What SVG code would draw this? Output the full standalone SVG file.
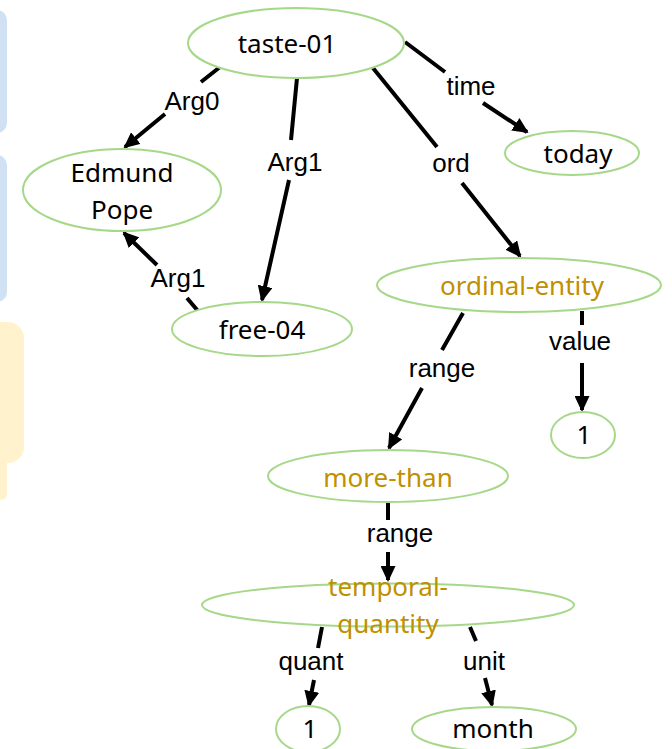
<svg xmlns="http://www.w3.org/2000/svg" width="672" height="749" viewBox="0 0 672 749">
  <style>
    .node ellipse { fill: #ffffff; stroke: #a6d889; stroke-width: 2; }
    .node text { font-family: "Noto Sans", "Open Sans", sans-serif; font-size: 26px; text-anchor: middle; fill: #000000; }
    .node text.concept { fill: #bf9000; }
    .edge { fill: none; stroke: #000000; stroke-width: 4; marker-end: url(#arrow); }
    .label { font-family: "Liberation Sans", Arial, sans-serif; font-size: 26px; text-anchor: middle; fill: #000000; }
    .side-blue { fill: #d0e1f4; }
    .side-yellow { fill: #fff2cc; }
  </style>
  <defs>
    <marker id="arrow" viewBox="0 0 16 15" refX="14" refY="7.5" markerWidth="16" markerHeight="15" markerUnits="userSpaceOnUse" orient="auto">
      <path d="M0,0 L16,7.5 L0,15 z" fill="#000000"/>
    </marker>
  </defs>

  <rect width="672" height="749" fill="#ffffff"/>

  <!-- side panels at the left edge -->
  <g id="side-panels">
    <rect class="side-blue" x="-20" y="10" width="27" height="123" rx="10"/>
    <rect class="side-blue" x="-20" y="155" width="27" height="147" rx="10"/>
    <rect class="side-yellow" x="-20" y="440" width="27" height="60" rx="6"/>
    <rect class="side-yellow" x="-20" y="322" width="44" height="141" rx="16"/>
  </g>

  <!-- connectors -->
  <g id="connectors">
    <path class="edge" d="M220,67 L201,82 M165,114 L125,147"/>
    <path class="edge" d="M297,78 L291,140 M289,180 L262,300"/>
    <path class="edge" d="M198,311 L187,298 M157,265 L124,233"/>
    <path class="edge" d="M405,42 L445,72 M483,103 L527,132"/>
    <path class="edge" d="M373,68 L437,147 M462,183 L520,256"/>
    <path class="edge" d="M463,313 L442,350 M422,388 L389,448"/>
    <path class="edge" d="M582,311 L582,325 M582,363 L582,410"/>
    <path class="edge" d="M388,502 L388,520 M388,552 L388,580"/>
    <path class="edge" d="M322,627 L318,648 M314,680 L309,705"/>
    <path class="edge" d="M470,627 L476,641 M485,678 L492,705"/>

    <text class="label" x="192" y="110">Arg0</text>
    <text class="label" x="295" y="171">Arg1</text>
    <text class="label" x="178" y="287">Arg1</text>
    <text class="label" x="471" y="95">time</text>
    <text class="label" x="451" y="172">ord</text>
    <text class="label" x="442" y="377">range</text>
    <text class="label" x="580" y="350">value</text>
    <text class="label" x="400" y="542">range</text>
    <text class="label" x="311" y="670">quant</text>
    <text class="label" x="484" y="670">unit</text>
  </g>

  <!-- nodes -->
  <g id="taste-01" class="node">
    <ellipse cx="296" cy="43" rx="108" ry="35"/>
    <text x="287" y="53">taste-01</text>
  </g>
  <g id="edmund-pope" class="node">
    <ellipse cx="122" cy="190" rx="99" ry="41"/>
    <text x="122" y="182">Edmund</text>
    <text x="122" y="219">Pope</text>
  </g>
  <g id="free-04" class="node">
    <ellipse cx="262" cy="329" rx="90" ry="27"/>
    <text x="262" y="339">free-04</text>
  </g>
  <g id="today" class="node">
    <ellipse cx="572" cy="153" rx="67" ry="22"/>
    <text x="578" y="163">today</text>
  </g>
  <g id="ordinal-entity" class="node">
    <ellipse cx="519" cy="285" rx="142" ry="27"/>
    <text class="concept" x="522" y="295">ordinal-entity</text>
  </g>
  <g id="value-1" class="node">
    <ellipse cx="583" cy="435" rx="32" ry="23"/>
    <text x="584" y="444">1</text>
  </g>
  <g id="more-than" class="node">
    <ellipse cx="388" cy="476" rx="120" ry="26"/>
    <text class="concept" x="388" y="487">more-than</text>
  </g>
  <g id="temporal-quantity" class="node">
    <ellipse cx="388" cy="605" rx="186" ry="21.5" style="fill: none"/>
    <text class="concept" x="388" y="596">temporal-</text>
    <text class="concept" x="388" y="633">quantity</text>
  </g>
  <g id="quant-1" class="node">
    <ellipse cx="308" cy="729" rx="32" ry="23"/>
    <text x="310" y="738">1</text>
  </g>
  <g id="month" class="node">
    <ellipse cx="494" cy="729" rx="82" ry="22"/>
    <text x="493" y="738">month</text>
  </g>
</svg>
